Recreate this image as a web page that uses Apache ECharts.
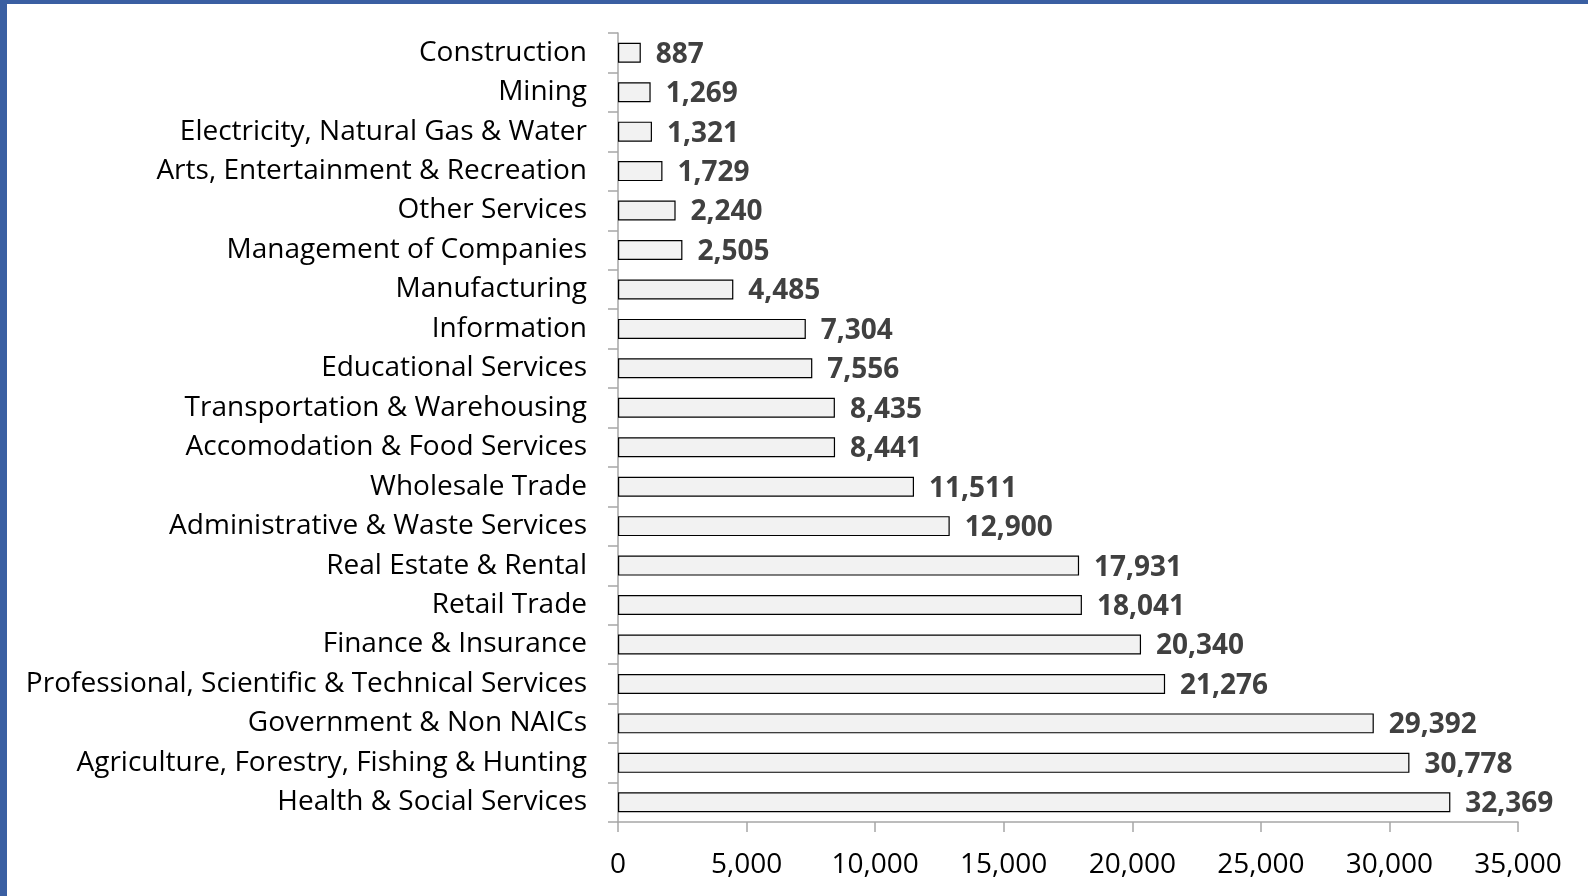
<!DOCTYPE html>
<html>
<head>
<meta charset="utf-8">
<script src="https://cdn.jsdelivr.net/npm/echarts@6/dist/echarts.min.js"></script>
<style>
    html, body { margin: 0; padding: 0; background: #fff; }
    #chart { width: 1588px; height: 896px; }
    .edge { position: absolute; background: #3a5fa2; }
</style>
</head>
<body>
<div id="chart"></div>
<div class="edge" style="left:0;top:0;width:1588px;height:4px"></div>
<div class="edge" style="left:0;top:0;width:7px;height:896px"></div>
<script>
    // industries listed top to bottom as in the chart
    const industries = [
        'Construction', 'Mining', 'Electricity, Natural Gas & Water',
        'Arts, Entertainment & Recreation', 'Other Services', 'Management of Companies',
        'Manufacturing', 'Information', 'Educational Services',
        'Transportation & Warehousing', 'Accomodation & Food Services', 'Wholesale Trade',
        'Administrative & Waste Services', 'Real Estate & Rental', 'Retail Trade',
        'Finance & Insurance', 'Professional, Scientific & Technical Services',
        'Government & Non NAICs', 'Agriculture, Forestry, Fishing & Hunting',
        'Health & Social Services'
    ]
    const jobs = [
        887, 1269, 1321, 1729, 2240, 2505, 4485, 7304, 7556, 8435,
        8441, 11511, 12900, 17931, 18041, 20340, 21276, 29392, 30778, 32369
    ]
    const xMax = 35000
    const xStep = 5000

    const font = '"Open Sans", sans-serif'
    const axisGray = '#a6a6a6'

    const chart = echarts.init(document.getElementById('chart'))
    chart.setOption({
        animation: false,
        grid: { left: 618, right: 70, top: 33, bottom: 74 },
        xAxis: {
            type: 'value',
            min: 0,
            max: xMax,
            interval: xStep,
            axisLine: { show: true, lineStyle: { color: axisGray, width: 1.5 } },
            axisTick: { show: true, length: 10, lineStyle: { color: axisGray, width: 1.5 } },
            splitLine: { show: false },
            axisLabel: {
                margin: 29,
                fontFamily: font,
                fontSize: 28,
                color: '#000',
                formatter: v => v.toLocaleString('en-US')
            }
        },
        yAxis: {
            type: 'category',
            inverse: true,
            data: industries,
            axisLine: { show: true, lineStyle: { color: axisGray, width: 1.5 } },
            axisTick: { show: true, length: 10, lineStyle: { color: axisGray, width: 1.5 } },
            axisLabel: {
                margin: 31,
                padding: [2, 0, 0, 0],
                fontFamily: font,
                fontSize: 28,
                color: '#000'
            }
        },
        series: [{
            type: 'bar',
            data: jobs,
            barWidth: 20,
            itemStyle: { color: '#f2f2f2', borderColor: '#000', borderWidth: 1.2 },
            label: {
                show: true,
                position: 'right',
                distance: 15,
                offset: [0, 2],
                fontFamily: font,
                fontSize: 28,
                fontWeight: 'bold',
                color: '#404040',
                formatter: p => p.value.toLocaleString('en-US')
            }
        }]
    })
</script>
</body>
</html>
